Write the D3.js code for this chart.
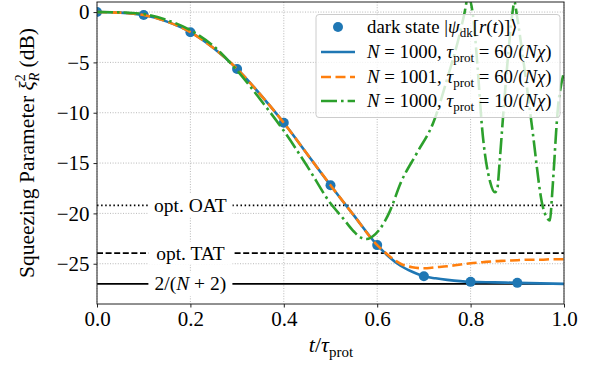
<!DOCTYPE html>
<html><head><meta charset="utf-8">
<script src="https://cdn.jsdelivr.net/npm/d3@7"></script>
<style>
html,body{margin:0;padding:0;background:#fff;}
svg{display:block;}
text{font-family:"Liberation Serif","DejaVu Serif",serif;fill:#000;}
</style></head><body>
<svg id="chart" width="592" height="366"></svg>
<script>
// ---- data ----
const xTicks = [0, 0.2, 0.4, 0.6, 0.8, 1.0];
const yTicks = [0, -5, -10, -15, -20, -25];

const darkT = [0, 0.1, 0.2, 0.3, 0.4, 0.5, 0.6, 0.7, 0.8, 0.9];
const darkV = [0, -0.3, -2.0, -5.65, -11.0, -17.2, -23.15, -26.25, -26.8, -26.9];

const blueT = [0, 0.05, 0.1, 0.15, 0.2, 0.25, 0.3, 0.35, 0.4, 0.45, 0.5, 0.55, 0.6, 0.625, 0.65, 0.675, 0.7, 0.725, 0.75, 0.8, 0.85, 0.9, 0.95, 1.0];
const blueV = [0, -0.06, -0.3, -0.95, -2.0, -3.6, -5.65, -8.2, -11.0, -14.1, -17.2, -20.2, -23.15, -24.3, -25.2, -25.8, -26.25, -26.45, -26.6, -26.8, -26.85, -26.9, -26.95, -27.0];

const orangeT = [0, 0.05, 0.1, 0.15, 0.2, 0.25, 0.3, 0.35, 0.4, 0.45, 0.5, 0.55, 0.6, 0.625, 0.65, 0.675, 0.7, 0.725, 0.75, 0.775, 0.8, 0.825, 0.85, 0.875, 0.9, 0.925, 0.95, 0.975, 1.0];
const orangeV = [0, -0.06, -0.3, -0.95, -2.0, -3.6, -5.65, -8.2, -11.0, -14.1, -17.2, -20.2, -23.15, -24.2, -25.0, -25.35, -25.45, -25.35, -25.25, -25.1, -24.95, -24.85, -24.75, -24.7, -24.65, -24.6, -24.6, -24.55, -24.55];

const greenT = [0, 0.05, 0.1, 0.15, 0.2, 0.25, 0.3, 0.35, 0.4, 0.45, 0.5, 0.527, 0.55, 0.565, 0.578, 0.59, 0.605, 0.627, 0.65, 0.685, 0.72, 0.752, 0.775, 0.786, 0.795, 0.805, 0.815, 0.824, 0.842, 0.852, 0.857, 0.862, 0.869, 0.879, 0.889, 0.894, 0.899, 0.915, 0.931, 0.955, 0.970, 0.974, 0.979, 0.983, 0.987, 0.994, 1.0];
const greenV = [0, -0.03, -0.2, -0.8, -1.8, -3.4, -5.8, -8.7, -11.8, -15.3, -19.0, -20.5, -21.8, -22.4, -22.55, -22.3, -21.6, -19.8, -17.0, -14.0, -11.0, -6.3, -2.5, -0.3, 1.5, -0.3, -5.5, -11.2, -16.9, -17.9, -17.6, -15.0, -10.7, -5.0, -0.3, 1.0, -0.3, -5.5, -11.2, -19.4, -20.7, -18.5, -15.0, -12.0, -9.5, -7.2, -6.0];

const refLevels = [-19.2, -23.95, -27.0];
const refLabels = ["opt. OAT", "opt. TAT", "2/(N+2)"];
const refDash = ["1.5,2.6", "6,2.6", null];

const colors = {blue: "#1f77b4", orange: "#ff7f0e", green: "#2ca02c"};

// ---- layout ----
const svg = d3.select("#chart");
const L = 97, R = 564, T = 2, B = 304;
const x = d3.scaleLinear().domain([0, 1]).range([L, R]);
const y = d3.scaleLinear().domain([-29, 1]).range([B, T]);

svg.append("defs").append("clipPath").attr("id", "clip")
  .append("rect").attr("x", L).attr("y", T).attr("width", R - L).attr("height", B - T);

// grid
const grid = svg.append("g");
xTicks.forEach(v => {
  grid.append("line").attr("x1", x(v)).attr("x2", x(v)).attr("y1", T).attr("y2", B)
    .attr("stroke", "#b0b0b0").attr("stroke-width", 0.9).attr("stroke-dasharray", "1,1.6");
});
yTicks.forEach(v => {
  grid.append("line").attr("x1", L).attr("x2", R).attr("y1", y(v)).attr("y2", y(v))
    .attr("stroke", "#b0b0b0").attr("stroke-width", 0.9).attr("stroke-dasharray", "1,1.6");
});

// reference lines
const refG = svg.append("g");
refLevels.forEach((lv, i) => {
  const ln = refG.append("line").attr("x1", L).attr("x2", R).attr("y1", y(lv)).attr("y2", y(lv))
    .attr("stroke", "#000").attr("stroke-width", 1.6);
  if (refDash[i]) ln.attr("stroke-dasharray", refDash[i]);
});

// plot content
const plot = svg.append("g").attr("clip-path", "url(#clip)");
const line = d3.line().x(d => x(d[0])).y(d => y(d[1])).curve(d3.curveMonotoneX);

plot.selectAll("circle.dk").data(darkT.map((t, i) => [t, darkV[i]])).join("circle")
  .attr("class", "dk").attr("cx", d => x(d[0])).attr("cy", d => y(d[1])).attr("r", 5)
  .attr("fill", colors.blue);

plot.append("path").attr("d", line(blueT.map((t, i) => [t, blueV[i]])))
  .attr("fill", "none").attr("stroke", colors.blue).attr("stroke-width", 2.6);
plot.append("path").attr("d", line(orangeT.map((t, i) => [t, orangeV[i]])))
  .attr("fill", "none").attr("stroke", colors.orange).attr("stroke-width", 2.6)
  .attr("stroke-dasharray", "10,4.5");
plot.append("path").attr("d", line(greenT.map((t, i) => [t, greenV[i]])))
  .attr("fill", "none").attr("stroke", colors.green).attr("stroke-width", 2.6)
  .attr("stroke-dasharray", "16,4,2.6,4");

// ref labels with white boxes
refLevels.forEach((lv, i) => {
  const g = svg.append("g");
  const rect = g.append("rect").attr("fill", "#fff");
  const t = g.append("text").attr("x", x(0.2)).attr("y", y(lv)).attr("dy", "0.33em")
    .attr("text-anchor", "middle").style("font-size", "19.5px");
  if (i === 2) {
    t.append("tspan").text("2/(");
    t.append("tspan").attr("font-style", "italic").text("N");
    t.append("tspan").text(" + 2)");
  } else {
    t.text(refLabels[i]);
  }
  const bb = t.node().getBBox();
  rect.attr("x", x(0.2) - 42).attr("width", 84).attr("y", bb.y - 1).attr("height", bb.height + 2);
});

// frame
svg.append("rect").attr("x", L).attr("y", T).attr("width", R - L).attr("height", B - T)
  .attr("fill", "none").attr("stroke", "#222").attr("stroke-width", 1);

// axes
const xAxis = svg.append("g").attr("transform", `translate(0,${B})`)
  .call(d3.axisBottom(x).tickValues(xTicks).tickFormat(d3.format(".1f")).tickSize(3.5).tickPadding(4));
const yAxis = svg.append("g").attr("transform", `translate(${L},0)`)
  .call(d3.axisLeft(y).tickValues(yTicks).tickFormat(d3.format("d")).tickSize(3.5).tickPadding(4));
[xAxis, yAxis].forEach(a => {
  a.select(".domain").remove();
  a.selectAll("text").style("font-size", "21px").style("font-family", '"Liberation Serif",serif');
  a.selectAll("line").attr("stroke", "#222");
});

// axis labels
const xl = svg.append("text").attr("x", 331).attr("y", 352).attr("text-anchor", "middle").style("font-size", "22px");
xl.append("tspan").attr("font-style", "italic").text("t");
xl.append("tspan").text("/");
xl.append("tspan").attr("font-style", "italic").text("τ");
xl.append("tspan").attr("dy", 5).style("font-size", "15px").text("prot");

const yl = svg.append("text").attr("transform", "translate(34,153) rotate(-90)")
  .attr("text-anchor", "middle").style("font-size", "21.5px");
yl.append("tspan").text("Squeezing Parameter ");
yl.append("tspan").attr("font-style", "italic").text("ξ");
yl.append("tspan").attr("dy", -9).style("font-size", "14px").text("2");
yl.append("tspan").attr("dx", -7).attr("dy", 14).style("font-size", "14px").attr("font-style", "italic").text("R");
yl.append("tspan").attr("dy", -5).text(" (dB)");

// legend
const lg = svg.append("g");
lg.append("rect").attr("x", 316).attr("y", 14.5).attr("width", 244).attr("height", 103)
  .attr("rx", 3).attr("fill", "#fff").attr("fill-opacity", 0.8).attr("stroke", "#ccc").attr("stroke-width", 1);
const rows = [27, 52, 77, 101];
lg.append("circle").attr("cx", 338).attr("cy", rows[0]).attr("r", 5).attr("fill", colors.blue);
const handles = [
  {c: colors.blue, d: null},
  {c: colors.orange, d: "10,4.5"},
  {c: colors.green, d: "16,4,2.6,4"}
];
handles.forEach((h, i) => {
  const l = lg.append("line").attr("x1", 321).attr("x2", 355).attr("y1", rows[i + 1]).attr("y2", rows[i + 1])
    .attr("stroke", h.c).attr("stroke-width", 2.6);
  if (h.d) l.attr("stroke-dasharray", h.d);
});
const fs = "18.8px";
const sfs = "13px";
const t0 = lg.append("text").attr("x", 367).attr("y", rows[0] + 6).style("font-size", fs);
t0.append("tspan").text("dark state |");
t0.append("tspan").attr("font-style", "italic").text("ψ");
t0.append("tspan").attr("dy", 4).style("font-size", sfs).text("dk");
t0.append("tspan").attr("dy", -4).text("[");
t0.append("tspan").attr("font-style", "italic").text("r");
t0.append("tspan").text("(");
t0.append("tspan").attr("font-style", "italic").text("t");
t0.append("tspan").text(")]⟩");

const legN = ["1000", "1001", "1000"];
const legTau = ["60", "60", "10"];
legN.forEach((n, i) => {
  const t = lg.append("text").attr("x", 367).attr("y", rows[i + 1] + 6).style("font-size", fs);
  t.append("tspan").attr("font-style", "italic").text("N");
  t.append("tspan").text(" = " + n + ", ");
  t.append("tspan").attr("font-style", "italic").text("τ");
  t.append("tspan").attr("dy", 4).style("font-size", sfs).text("prot");
  t.append("tspan").attr("dy", -4).text(" = " + legTau[i] + "/(");
  t.append("tspan").attr("font-style", "italic").text("Nχ");
  t.append("tspan").text(")");
});
</script>
</body></html>
